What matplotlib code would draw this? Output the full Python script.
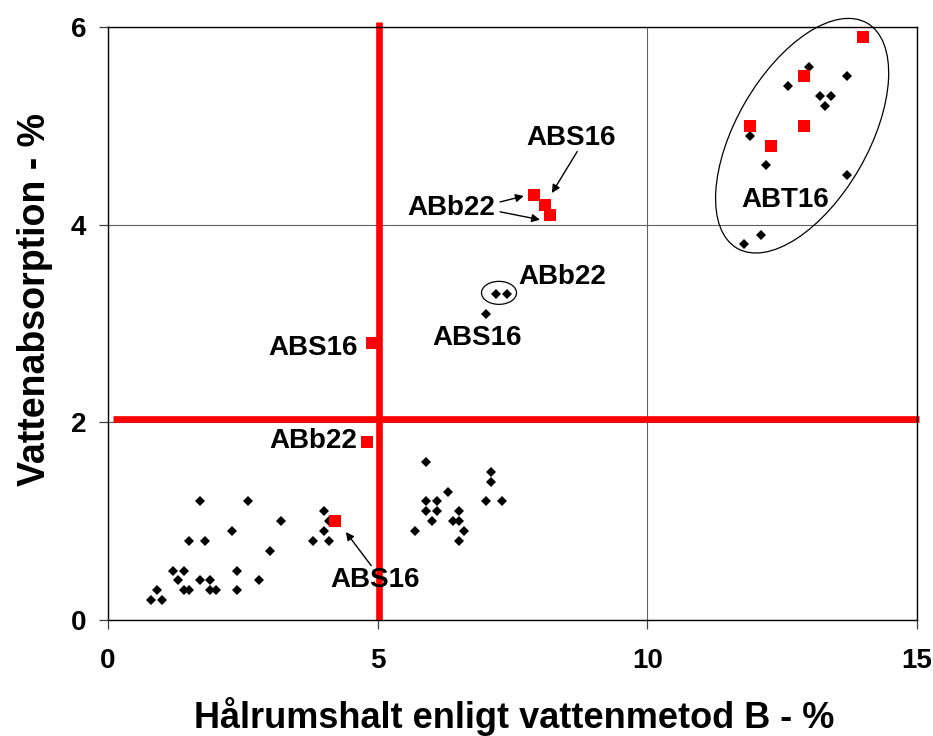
import matplotlib
matplotlib.use("Agg")
from matplotlib import pyplot as plt
from matplotlib.patches import Ellipse
from matplotlib.transforms import ScaledTranslation
import numpy as np

plt.rcParams['font.family'] = ['Liberation Sans', 'DejaVu Sans']
plt.rcParams['font.weight'] = 'bold'

# ---------------- data ----------------
black_x = [1.7, 2.6, 4.0, 3.2, 4.1, 2.3, 4.0, 1.5, 1.8, 3.8, 4.1, 3.0, 1.2, 1.4, 2.4,
           1.3, 1.7, 1.9, 2.8, 0.9, 1.4, 1.5, 1.9, 2.0, 2.4, 0.8, 1.0,
           5.9, 7.1, 7.1, 6.3, 5.9, 6.1, 7.0, 7.3, 5.9, 6.1, 6.5, 6.0, 6.4, 6.5, 5.7, 6.6, 6.5,
           7.2, 7.4, 7.0,
           13.0, 13.7, 12.6, 13.2, 13.4, 13.3, 11.9, 12.2, 13.7, 12.1, 11.8]
black_y = [1.2, 1.2, 1.1, 1.0, 1.0, 0.9, 0.9, 0.8, 0.8, 0.8, 0.8, 0.7, 0.5, 0.5, 0.5,
           0.4, 0.4, 0.4, 0.4, 0.3, 0.3, 0.3, 0.3, 0.3, 0.3, 0.2, 0.2,
           1.6, 1.5, 1.4, 1.3, 1.2, 1.2, 1.2, 1.2, 1.1, 1.1, 1.1, 1.0, 1.0, 1.0, 0.9, 0.9, 0.8,
           3.3, 3.3, 3.1,
           5.6, 5.5, 5.4, 5.3, 5.3, 5.2, 4.9, 4.6, 4.5, 3.9, 3.8]

red_x = [4.2, 4.8, 4.9, 7.9, 8.1, 8.2, 14.0, 12.9, 11.9, 12.9, 12.3]
red_y = [1.0, 1.8, 2.8, 4.3, 4.2, 4.1, 5.9, 5.5, 5.0, 5.0, 4.8]

limit_x = 5.02
limit_y = 2.03

x_ticks = [0, 5, 10, 15]
y_ticks = [0, 2, 4, 6]

# label text, text position, arrows as (from, to)
labels = [
    ("ABS16", (8.59, 4.88), [((8.70, 4.74), (8.23, 4.32))]),
    ("ABb22", (6.36, 4.17), [((7.27, 4.23), (7.71, 4.29)), ((7.27, 4.13), (8.01, 4.05))]),
    ("ABb22", (8.42, 3.47), []),
    ("ABS16", (6.84, 2.85), []),
    ("ABS16", (3.80, 2.75), []),
    ("ABb22", (3.80, 1.81), []),
    ("ABS16", (4.95, 0.40), [((4.88, 0.55), (4.41, 0.89))]),
    ("ABT16", (12.55, 4.25), []),
]

# ---------------- figure ----------------
fig = plt.figure(figsize=(9.33, 7.36), dpi=100)
ax = fig.add_axes([108/933, 116/736, 809/933, 593/736])

ax.set_xlim(0, 15)
ax.set_ylim(0, 6)
ax.set_xticks(x_ticks)
ax.set_yticks(y_ticks)
ax.grid(color='#606060', linewidth=0.8, zorder=0)
ax.set_axisbelow(True)
for s in ax.spines.values():
    s.set_color('black')
    s.set_linewidth(1.0)
ax.tick_params(direction='out', length=6.5, width=0.9, labelsize=20, color='#404040')
ax.tick_params(axis='x', pad=14)
ax.tick_params(axis='y', pad=9)

# red limit lines
ax.plot([limit_x, limit_x], [0, 6.05], color='red', linewidth=4.8, zorder=2, clip_on=False,
        solid_capstyle='butt')
ax.plot([0.09, 15.04], [limit_y, limit_y], color='red', linewidth=4.8, zorder=2, clip_on=False,
        solid_capstyle='butt')

ax.plot(black_x, black_y, linestyle='none', marker='D', markersize=5.4,
        color='black', markeredgewidth=0, zorder=3)
ax.plot(red_x, red_y, linestyle='none', marker='s', markersize=8,
        color='red', markeredgewidth=0, zorder=3)

# ellipses drawn in inch units around data centres
big = Ellipse((0, 0), 2.60, 1.32, angle=60, fill=False, edgecolor='black', linewidth=0.9,
              transform=fig.dpi_scale_trans + ScaledTranslation(12.87, 4.90, ax.transData),
              clip_on=False, zorder=4)
ax.add_patch(big)
small = Ellipse((0, 0), 0.35, 0.23, angle=0, fill=False, edgecolor='black', linewidth=0.9,
                transform=fig.dpi_scale_trans + ScaledTranslation(7.25, 3.31, ax.transData),
                clip_on=False, zorder=4)
ax.add_patch(small)

for txt, pos, arrows in labels:
    ax.text(pos[0], pos[1], txt, fontsize=20, fontweight='bold', ha='center', va='center', zorder=5)
    for a, b in arrows:
        ax.annotate("", xy=b, xytext=a,
                    arrowprops=dict(arrowstyle='-|>', color='black', lw=1.0,
                                    mutation_scale=12, shrinkA=0, shrinkB=0),
                    zorder=5)

ax.set_xlabel("Hålrumshalt enligt vattenmetod B - %", fontsize=26, fontweight='bold', va='center')
ax.xaxis.set_label_coords(0.502, -0.162)
ax.set_ylabel("Vattenabsorption - %", fontsize=27, fontweight='bold', va='center')
ax.yaxis.set_label_coords(-0.090, 0.54)

plt.savefig("out.png", dpi=100)
